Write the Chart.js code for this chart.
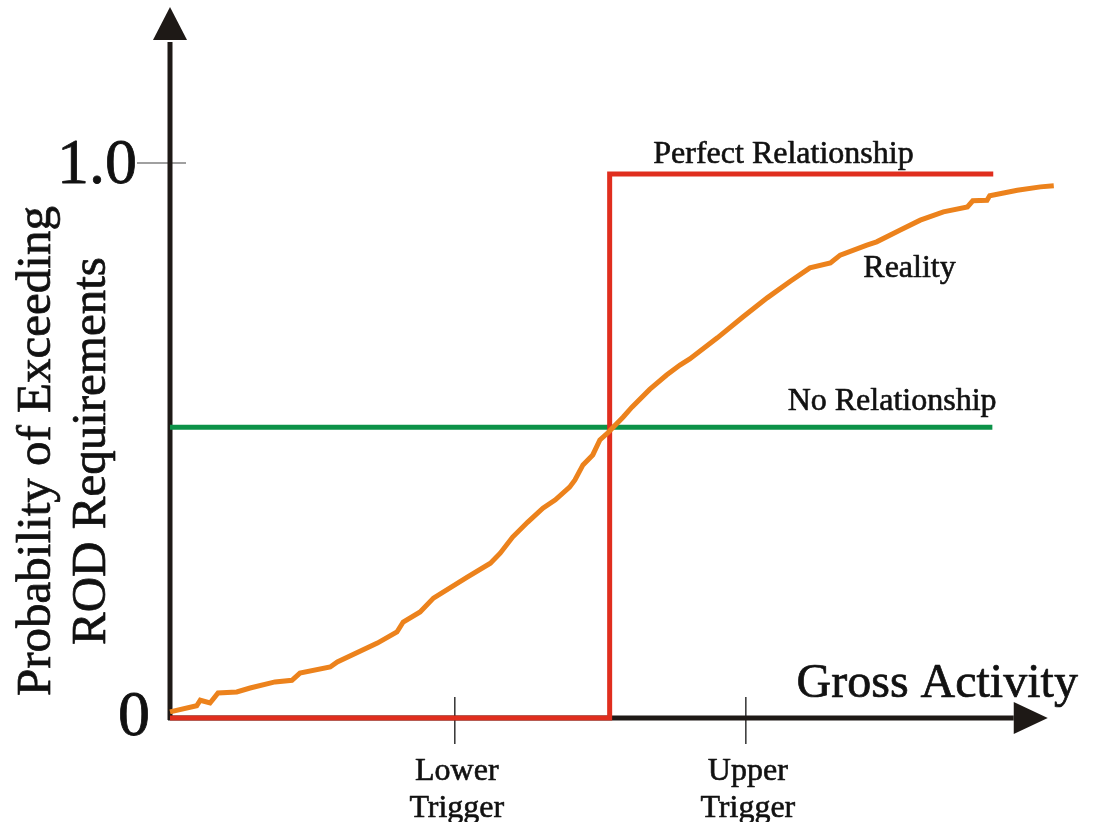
<!DOCTYPE html>
<html>
<head>
<meta charset="utf-8">
<title>Gross Activity vs Probability</title>
<script src="https://cdn.jsdelivr.net/npm/chart.js@4.4.1/dist/chart.umd.min.js"></script>
<style>
  html, body { margin: 0; padding: 0; background: #fff; }
  #wrap { width: 1094px; height: 822px; }
</style>
</head>
<body>
<div id="wrap"><canvas id="chart" width="1094" height="822"></canvas></div>
<script>
// Values (x: 0..100 along Gross Activity, y: probability)
const realityX = [0, 3.0, 3.4, 4.5, 5.4, 7.5, 9.0, 11.8, 13.7, 14.6, 18.0, 18.8, 23.3, 25.5, 26.2, 28.1,
  29.6, 33.4, 36.0, 37.1, 38.5, 40.2, 41.9, 43.3, 44.9, 45.5, 46.4, 47.5, 48.3, 49.2, 49.8, 50.9,
  51.9, 53.9, 55.8, 57.3, 58.4, 61.5, 64.4, 67.1, 69.7, 71.9, 74.2, 75.3, 78.3, 79.4, 82.0, 84.3,
  86.9, 89.6, 90.2, 91.8, 92.1, 95.2, 97.8, 99.3];
const realityY = [0.011, 0.022, 0.032, 0.027, 0.045, 0.047, 0.054, 0.065, 0.068, 0.081, 0.092, 0.101,
  0.135, 0.155, 0.173, 0.191, 0.216, 0.254, 0.279, 0.297, 0.326, 0.353, 0.378, 0.393, 0.416, 0.429,
  0.456, 0.474, 0.501, 0.514, 0.524, 0.542, 0.560, 0.592, 0.618, 0.636, 0.647, 0.685, 0.723, 0.757,
  0.787, 0.811, 0.820, 0.834, 0.852, 0.858, 0.879, 0.897, 0.912, 0.921, 0.932, 0.933, 0.941, 0.951,
  0.957, 0.959];

const perfectX = [0, 49.4, 49.4, 92.5];
const perfectY = [0, 0, 0.98, 0.98];

const noneX = [0, 92.4];
const noneY = [0.524, 0.524];

const yTickValues = [0, 1.0];
const yTickLabels = ['0', '1.0'];
const xTickValues = [32.0, 64.7];
const xTickLabels = [['Lower', 'Trigger'], ['Upper', 'Trigger']];

const xTitle = 'Gross Activity';
const yTitle = ['Probability of Exceeding', 'ROD Requirements'];
const seriesNames = ['Reality', 'Perfect Relationship', 'No Relationship'];

const FONT = "'Liberation Serif', 'Times New Roman', serif";
const INK = 'rgb(30, 25, 22)';

function toPoints(xs, ys) {
  return xs.map((x, i) => ({ x: x, y: ys[i] }));
}

// text a touch heavier, like the scanned original
function inkText(ctx, t, x, y, w) {
  ctx.lineWidth = w;
  ctx.strokeText(t, x, y);
  ctx.fillText(t, x, y);
}

// axes with arrows, ticks and all the text
const axesPlugin = {
  id: 'axesPlugin',
  beforeDatasetsDraw(chart) {
    const ctx = chart.ctx;
    const xs = chart.scales.x;
    const ys = chart.scales.y;
    const x0 = xs.getPixelForValue(0);
    const y0 = ys.getPixelForValue(0);
    const top = chart.chartArea.top;

    ctx.save();
    // y tick at 1.0 (thin grey)
    ctx.strokeStyle = '#808080';
    ctx.lineWidth = 1.5;
    const y1 = ys.getPixelForValue(yTickValues[1]);
    ctx.beginPath();
    ctx.moveTo(x0 - 33, y1);
    ctx.lineTo(x0 + 16, y1);
    ctx.stroke();

    // x ticks
    ctx.strokeStyle = '#333';
    ctx.lineWidth = 1.5;
    xTickValues.forEach(v => {
      const px = xs.getPixelForValue(v);
      ctx.beginPath();
      ctx.moveTo(px, y0 - 21);
      ctx.lineTo(px, y0 + 26);
      ctx.stroke();
    });

    // axis lines
    ctx.strokeStyle = INK;
    ctx.fillStyle = INK;
    ctx.lineWidth = 5;
    ctx.lineCap = 'butt';
    ctx.beginPath();
    ctx.moveTo(x0, y0 + 2);
    ctx.lineTo(x0, top + 32);
    ctx.stroke();
    const xEnd = xs.getPixelForValue(94.8);
    ctx.beginPath();
    ctx.moveTo(x0 - 2, y0);
    ctx.lineTo(xEnd, y0);
    ctx.stroke();

    // arrow heads
    ctx.beginPath();
    ctx.moveTo(x0, top - 3);
    ctx.lineTo(x0 - 17, top + 30);
    ctx.lineTo(x0 + 17, top + 30);
    ctx.closePath();
    ctx.fill();
    ctx.beginPath();
    ctx.moveTo(xEnd + 34, y0);
    ctx.lineTo(xEnd, y0 - 16);
    ctx.lineTo(xEnd, y0 + 16);
    ctx.closePath();
    ctx.fill();

    // y tick labels
    ctx.fillStyle = '#111';
    ctx.strokeStyle = '#111';
    ctx.lineJoin = 'round';
    ctx.font = '64px ' + FONT;
    ctx.textAlign = 'right';
    ctx.textBaseline = 'alphabetic';
    inkText(ctx, yTickLabels[1], x0 - 33, y1 + 20, 0.8);
    inkText(ctx, yTickLabels[0], x0 - 20, y0 + 17, 0.8);

    // x tick labels
    ctx.font = '32px ' + FONT;
    ctx.textAlign = 'center';
    xTickLabels.forEach((lines, i) => {
      const px = xs.getPixelForValue(xTickValues[i]) + 2;
      lines.forEach((t, j) => inkText(ctx, t, px, y0 + 62 + j * 37, 0.6));
    });

    // x title
    ctx.font = '48px ' + FONT;
    ctx.textAlign = 'left';
    inkText(ctx, xTitle, xs.getPixelForValue(70.4), y0 - 21, 0.7);

    // y title (rotated)
    ctx.save();
    ctx.translate(0, ys.getPixelForValue(0.481));
    ctx.rotate(-Math.PI / 2);
    ctx.font = '49px ' + FONT;
    ctx.textAlign = 'center';
    inkText(ctx, yTitle[0], 0, 50, 0.7);
    inkText(ctx, yTitle[1], 0, 105, 0.7);
    ctx.restore();

    // series labels
    ctx.font = '32px ' + FONT;
    ctx.textAlign = 'left';
    inkText(ctx, seriesNames[1], xs.getPixelForValue(54.3), ys.getPixelForValue(1.0), 0.6);
    inkText(ctx, seriesNames[0], xs.getPixelForValue(77.9), ys.getPixelForValue(0.795), 0.6);
    inkText(ctx, seriesNames[2], xs.getPixelForValue(69.4), ys.getPixelForValue(0.555), 0.6);
    ctx.restore();
  }
};

const ctx = document.getElementById('chart').getContext('2d');
const chart = new Chart(ctx, {
  type: 'line',
  data: {
    datasets: [
      {
        label: seriesNames[0],
        data: toPoints(realityX, realityY),
        borderColor: 'rgb(236, 130, 28)',
        borderWidth: 5,
        pointRadius: 0,
        tension: 0,
        clip: false,
        order: 0
      },
      {
        label: seriesNames[1],
        data: toPoints(perfectX, perfectY),
        borderColor: 'rgb(224, 46, 30)',
        borderWidth: 5,
        pointRadius: 0,
        tension: 0,
        clip: false,
        order: 1
      },
      {
        label: seriesNames[2],
        data: toPoints(noneX, noneY),
        borderColor: 'rgb(12, 146, 72)',
        borderWidth: 5,
        pointRadius: 0,
        tension: 0,
        clip: false,
        order: 2
      }
    ]
  },
  options: {
    responsive: false,
    devicePixelRatio: 1,
    animation: false,
    layout: { padding: { left: 170, right: 34, top: 10, bottom: 104 } },
    scales: {
      x: { type: 'linear', min: 0, max: 100, display: false },
      y: { type: 'linear', min: 0, max: 1.2757, display: false }
    },
    plugins: {
      legend: { display: false },
      tooltip: { enabled: false }
    }
  },
  plugins: [axesPlugin]
});
</script>
</body>
</html>
